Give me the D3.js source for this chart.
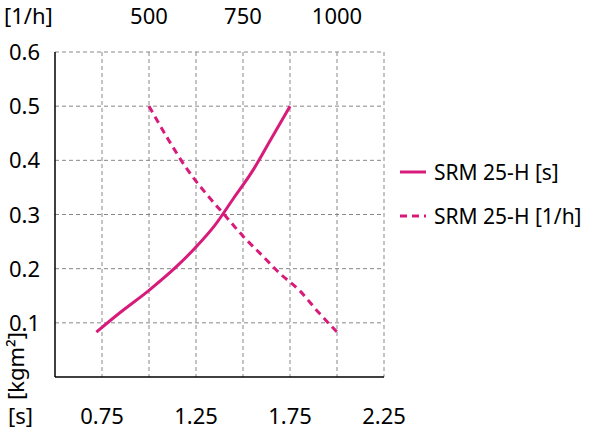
<!DOCTYPE html><html><head><meta charset="utf-8"><script src="https://cdn.jsdelivr.net/npm/d3@7"></script>
<style>body{margin:0;background:#fff}text{font-family:"Noto Sans",sans-serif;}</style></head><body><svg width="600" height="434"></svg><script>
const solidS=[0.72,0.85,1.0,1.15,1.25,1.35,1.45,1.55,1.65,1.75];
const solidY=[0.083,0.12,0.16,0.205,0.24,0.28,0.33,0.38,0.44,0.5];
const dashH=[500,550,600,650,700,750,800,850,900,950,1000];
const dashY=[0.5,0.44,0.385,0.34,0.3,0.26,0.225,0.19,0.16,0.12,0.083];
const bottomTicks=[0.75,1.25,1.75,2.25];
const topTicks=[500,750,1000];
const yTicks=[0.1,0.2,0.3,0.4,0.5,0.6];
const col="#d81b7a";
const fs=22;
const svg=d3.select("svg");
const x=d3.scaleLinear().domain([0.5,2.25]).range([55,384]);
const xt=d3.scaleLinear().domain([250,1125]).range([55,384]);
const y=d3.scaleLinear().domain([0,0.6]).range([377,52]);
const g=svg.append("g");
d3.range(0.75,2.26,0.25).forEach(v=>g.append("line").attr("x1",x(v)).attr("x2",x(v)).attr("y1",y(0.6)).attr("y2",y(0)).attr("stroke","#888").attr("stroke-dasharray","4,3"));
yTicks.forEach(v=>g.append("line").attr("x1",x(0.5)).attr("x2",x(2.25)).attr("y1",y(v)).attr("y2",y(v)).attr("stroke","#888").attr("stroke-dasharray","4,3"));
g.append("line").attr("x1",x(0.5)).attr("x2",x(0.5)).attr("y1",y(0.6)).attr("y2",y(0)).attr("stroke","#000").attr("stroke-width",1.5);
g.append("line").attr("x1",x(0.5)).attr("x2",x(2.25)).attr("y1",y(0)).attr("y2",y(0)).attr("stroke","#000").attr("stroke-width",1.5);
yTicks.forEach(v=>g.append("text").attr("x",40).attr("y",y(v)+8).attr("text-anchor","end").attr("font-size",fs).text(v.toFixed(1)));
bottomTicks.forEach(v=>g.append("text").attr("x",x(v)).attr("y",424).attr("text-anchor","middle").attr("font-size",fs).text(v));
topTicks.forEach(v=>g.append("text").attr("x",xt(v)).attr("y",24).attr("text-anchor","middle").attr("font-size",fs).text(v));
g.append("text").attr("x",4).attr("y",24).attr("font-size",fs).text("[1/h]");
g.append("text").attr("x",8).attr("y",424).attr("font-size",fs).text("[s]");
g.append("text").attr("transform","translate(24,400) rotate(-90)").attr("font-size",fs).text("[kgm²]");
const line=d3.line().curve(d3.curveMonotoneX);
g.append("path").attr("d",line(solidS.map((s,i)=>[x(s),y(solidY[i])]))).attr("fill","none").attr("stroke",col).attr("stroke-width",3);
g.append("path").attr("d",line(dashH.map((h,i)=>[xt(h),y(dashY[i])]))).attr("fill","none").attr("stroke",col).attr("stroke-width",3).attr("stroke-dasharray","7,5");
const leg=[["SRM 25-H [s]",null,172],["SRM 25-H [1/h]","7,5",216]];
leg.forEach(([t,d,yy])=>{g.append("line").attr("x1",400).attr("x2",426).attr("y1",yy).attr("y2",yy).attr("stroke",col).attr("stroke-width",3).attr("stroke-dasharray",d);
g.append("text").attr("x",434).attr("y",yy+8).attr("font-size",21).text(t);});
</script></body></html>
